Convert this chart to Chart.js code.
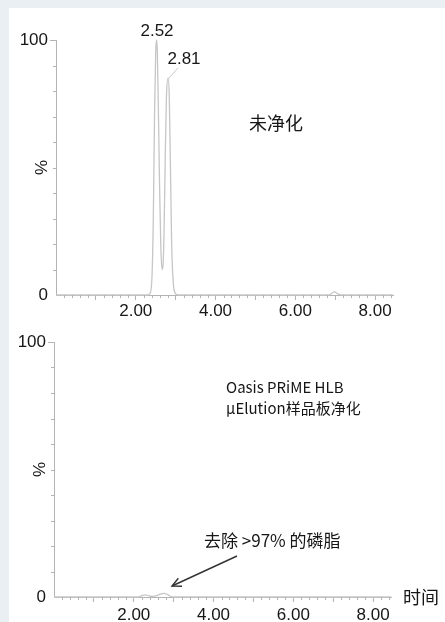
<!DOCTYPE html>
<html>
<head>
<meta charset="utf-8">
<script src="https://cdn.jsdelivr.net/npm/chart.js"></script>
<style>
  html, body { margin: 0; padding: 0; background: #e9eff2; }
  #wrap { position: relative; width: 445px; height: 622px; overflow: hidden; }
  #panel { position: absolute; left: 9px; top: 8px; right: 0; bottom: 0; background: #fff; }
  canvas { position: absolute; left: 0; }
  #top { top: 0; }
  #bottom { top: 322px; }
</style>
</head>
<body>
<div id="wrap">
  <div id="panel"></div>
  <canvas id="top" width="445" height="322"></canvas>
  <canvas id="bottom" width="445" height="300"></canvas>
</div>
<script>
// chromatogram values (time in min, signal in %)
const timeTop = [0, 2.30, 2.35, 2.40, 2.44, 2.47, 2.50, 2.52, 2.54, 2.57, 2.60, 2.63, 2.66, 2.68, 2.71, 2.74, 2.77, 2.81, 2.84, 2.87, 2.90, 2.94, 2.98, 3.05, 6.85, 6.93, 6.99, 7.06, 7.15, 8.45];
const signalTop = [0, 0, 0.5, 5, 30, 70, 95, 100, 96, 70, 40, 18, 10, 11, 25, 55, 78, 85, 78, 50, 20, 5, 1, 0, 0, 0.9, 1.2, 0.5, 0, 0];

const timeBottom = [0, 2.12, 2.22, 2.30, 2.38, 2.48, 2.58, 2.68, 2.76, 2.84, 2.92, 3.02, 8.45];
const signalBottom = [0, 0, 0.6, 0.8, 0.4, 0.2, 0.5, 1.2, 1.4, 1.0, 0.3, 0, 0];

const xTickLabels = ['2.00', '4.00', '6.00', '8.00'];
const yTickLabels = ['0', '100'];

const AXIS = '#b3b3b3';
const TRACE = '#c6c6c6';
const INK = '#161616';
const LATIN = '"Liberation Sans", Arial, sans-serif';
const CJK = '"Noto Sans CJK SC", "Noto Sans", sans-serif';

function isMajor(v) { return Math.abs(v - Math.round(v)) < 1e-6; }

// minor ticks + free text / arrows
const notesPlugin = {
  id: 'notes',
  afterDraw(chart, args, opts) {
    const ctx = chart.ctx;
    const xs = chart.scales.x, ys = chart.scales.y;
    const y0 = ys.getPixelForValue(0);
    ctx.save();
    ctx.strokeStyle = AXIS;
    ctx.lineWidth = 1;
    ctx.beginPath();
    for (let i = 1; i <= 42; i++) {
      const v = i / 5;
      if (isMajor(v)) continue;
      const px = Math.round(xs.getPixelForValue(v)) + 0.5;
      ctx.moveTo(px, y0);
      ctx.lineTo(px, y0 + 3);
    }
    const x0 = xs.left;
    for (let v = 10; v < 100; v += 10) {
      const py = Math.round(ys.getPixelForValue(v)) + 0.5;
      ctx.moveTo(x0, py);
      ctx.lineTo(x0 - 3, py);
    }
    ctx.stroke();

    // y axis title
    ctx.fillStyle = INK;
    ctx.font = '17px ' + LATIN;
    ctx.translate(opts.pctX, (ys.top + ys.bottom) / 2);
    ctx.rotate(-Math.PI / 2);
    ctx.textAlign = 'center';
    ctx.textBaseline = 'middle';
    ctx.fillText('%', 0, 0);
    ctx.setTransform(1, 0, 0, 1, 0, 0);

    (opts.texts || []).forEach(t => {
      ctx.font = t.font;
      ctx.fillStyle = INK;
      ctx.textAlign = t.align || 'left';
      ctx.textBaseline = 'middle';
      ctx.fillText(t.text, t.x, t.y);
    });
    (opts.lines || []).forEach(l => {
      ctx.strokeStyle = l.color;
      ctx.lineWidth = l.width;
      ctx.beginPath();
      ctx.moveTo(l.x1, l.y1);
      ctx.lineTo(l.x2, l.y2);
      ctx.stroke();
      if (l.head) {
        const a = Math.atan2(l.y2 - l.y1, l.x2 - l.x1);
        const h = 10;
        ctx.beginPath();
        ctx.moveTo(l.x2 - h * Math.cos(a - 0.45), l.y2 - h * Math.sin(a - 0.45));
        ctx.lineTo(l.x2, l.y2);
        ctx.lineTo(l.x2 - h * Math.cos(a + 0.45), l.y2 - h * Math.sin(a + 0.45));
        ctx.stroke();
      }
    });
    ctx.restore();
  }
};

function makeChart(id, times, signal, geo, notes) {
  return new Chart(document.getElementById(id), {
    type: 'line',
    data: {
      datasets: [{
        data: times.map((t, i) => ({ x: t, y: signal[i] })),
        borderColor: TRACE,
        borderWidth: 1.3,
        pointRadius: 0,
        cubicInterpolationMode: 'monotone',
        fill: false,
        clip: 6
      }]
    },
    options: {
      responsive: false,
      animation: false,
      layout: { padding: { left: 0, top: geo.top, right: geo.right, bottom: 0 } },
      plugins: { legend: { display: false }, tooltip: { enabled: false }, notes: notes },
      scales: {
        x: {
          type: 'linear', min: 0, max: 8.45,
          afterFit: s => { s.height = geo.xh; },
          border: { color: AXIS, width: 1 },
          grid: {
            drawOnChartArea: false, tickLength: 5,
            tickColor: c => (c.tick && isMajor(c.tick.value) && c.tick.value > 0) ? AXIS : 'rgba(0,0,0,0)'
          },
          ticks: {
            stepSize: 0.2, autoSkip: false, maxRotation: 0, padding: geo.xpad,
            color: INK, font: { family: LATIN, size: 17 },
            callback: v => {
              const i = xTickLabels.indexOf(Number(v).toFixed(2));
              return i >= 0 && isMajor(v) ? xTickLabels[i] : '';
            }
          }
        },
        y: {
          min: 0, max: 100,
          afterFit: s => { s.width = geo.yw; },
          border: { color: AXIS, width: 1 },
          grid: {
            drawOnChartArea: false, tickLength: 6,
            tickColor: c => (c.tick && c.tick.value === 100) ? AXIS : 'rgba(0,0,0,0)'
          },
          ticks: {
            stepSize: 10, padding: 2, color: INK, font: { family: LATIN, size: 17 },
            callback: v => (yTickLabels.indexOf(String(v)) >= 0 ? String(v) : '')
          }
        }
      }
    },
    plugins: [notesPlugin]
  });
}

makeChart('top', timeTop, signalTop,
  { top: 40, right: 52, xh: 27, yw: 56, xpad: 1 },
  {
    pctX: 42,
    texts: [
      { text: '2.52', x: 157, y: 31, font: '17px ' + LATIN, align: 'center' },
      { text: '2.81', x: 184, y: 59, font: '17px ' + LATIN, align: 'center' },
      { text: '未净化', x: 276, y: 123, font: '18px ' + CJK, align: 'center' }
    ],
    lines: [{ x1: 168, y1: 79, x2: 178, y2: 68, color: '#c8c8c8', width: 1 }]
  });

makeChart('bottom', timeBottom, signalBottom,
  { top: 20, right: 54, xh: 25, yw: 54, xpad: 3 },
  {
    pctX: 40,
    texts: [
      { text: 'Oasis PRiME HLB', x: 226, y: 65, font: '15px ' + CJK },
      { text: 'μElution样品板净化', x: 226, y: 86, font: '15px ' + CJK },
      { text: '去除 >97% 的磷脂', x: 204, y: 219, font: '17px ' + CJK },
      { text: '时间', x: 403, y: 275, font: '18px ' + CJK }
    ],
    lines: [{ x1: 237, y1: 234, x2: 172, y2: 264, color: '#333', width: 1.4, head: true }]
  });
</script>
</body>
</html>
